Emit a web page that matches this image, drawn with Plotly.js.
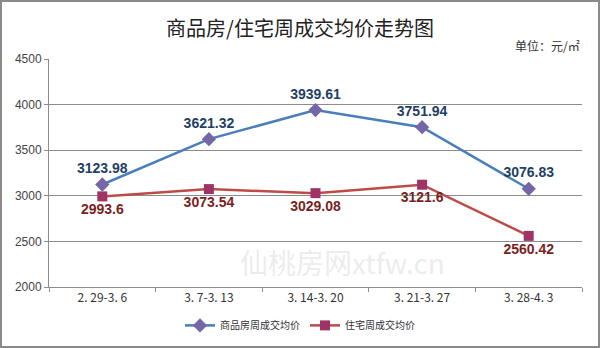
<!DOCTYPE html>
<html><head><meta charset="utf-8">
<script src="https://cdn.plot.ly/plotly-3.0.1.min.js"></script>
<style>
html,body{margin:0;padding:0;background:#fff;}
#wrap{width:600px;height:348px;box-sizing:border-box;border:2px solid #8a8a8a;position:relative;overflow:hidden;}
#chart{position:absolute;left:-2px;top:-2px;width:600px;height:348px;}
</style></head>
<body><div id="wrap"><div id="chart"></div></div>
<script>
const categories = ["2. 29-3. 6", "3. 7-3. 13", "3. 14-3. 20", "3. 21-3. 27", "3. 28-4. 3"];
const commercialName = "商品房周成交均价";
const commercialValues = [3123.98, 3621.32, 3939.61, 3751.94, 3076.83];
const residentialName = "住宅周成交均价";
const residentialValues = [2993.6, 3073.54, 3029.08, 3121.6, 2560.42];
const yTicks = [2000, 2500, 3000, 3500, 4000, 4500];

const traces = [
  {
    x: categories, y: commercialValues, name: commercialName,
    type: "scatter", mode: "lines+markers+text",
    text: commercialValues.map(String), textposition: "top center",
    textfont: {family: "Liberation Sans, Arial, sans-serif", size: 14, color: "#1F3F66", weight: "bold"},
    line: {color: "#4A7EBB", width: 2.5},
    marker: {symbol: "diamond", size: 11, color: "#7566A8"},
    cliponaxis: false
  },
  {
    x: categories, y: residentialValues, name: residentialName,
    type: "scatter", mode: "lines+markers+text",
    text: residentialValues.map(String), textposition: "bottom center",
    textfont: {family: "Liberation Sans, Arial, sans-serif", size: 14, color: "#7A1F1F", weight: "bold"},
    line: {color: "#BE4B48", width: 2.5},
    marker: {symbol: "square", size: 10, color: "#9E3366"},
    cliponaxis: false
  }
];

const layout = {
  width: 600, height: 348,
  margin: {l: 49, r: 18, t: 59, b: 61, autoexpand: false},
  paper_bgcolor: "rgba(0,0,0,0)", plot_bgcolor: "rgba(0,0,0,0)",
  showlegend: true,
  title: {text: "商品房/住宅周成交均价走势图", x: 0.5, xanchor: "center", xref: "container",
          y: 0.918, yref: "container", yanchor: "middle",
          font: {family: "Noto Sans CJK SC", size: 20, color: "#222"}},
  xaxis: {
    type: "category", showgrid: false, showline: true, linecolor: "#8c8c8c", linewidth: 1,
    ticks: "outside", tickson: "boundaries", ticklen: 4, tickcolor: "#8c8c8c",
    tickfont: {family: "Noto Sans CJK SC", size: 12, color: "#333"},
    range: [-0.5, 4.5], automargin: false
  },
  yaxis: {
    range: [2000, 4500], tickvals: yTicks, ticktext: yTicks.map(String),
    showgrid: true, gridcolor: "#8c8c8c", gridwidth: 1, zeroline: false,
    showline: true, linecolor: "#8c8c8c", linewidth: 1,
    ticks: "outside", ticklen: 4, tickcolor: "#8c8c8c",
    tickfont: {family: "Liberation Sans, Arial, sans-serif", size: 12, color: "#444"},
    automargin: false
  },
  legend: {orientation: "h", x: 0.5, xref: "container", xanchor: "center",
           y: 0.065, yref: "container", yanchor: "middle",
           font: {family: "Noto Sans CJK SC", size: 10, color: "#333"}},
  annotations: [
    {text: "单位：元/㎡", xref: "paper", yref: "paper", x: 1.0, xanchor: "right", y: 1.06, yanchor: "middle",
     showarrow: false, font: {family: "Noto Sans CJK SC", size: 12, color: "#333"}},
    {text: "仙桃房网xtfw.cn", xref: "paper", yref: "paper", x: 0.55, xanchor: "center", y: 0.11, yanchor: "middle",
     showarrow: false, font: {family: "Noto Sans CJK SC", size: 28, color: "rgba(200,200,200,0.35)"}}
  ]
};

Plotly.newPlot("chart", traces, layout, {displayModeBar: false, staticPlot: true});
</script></body></html>
